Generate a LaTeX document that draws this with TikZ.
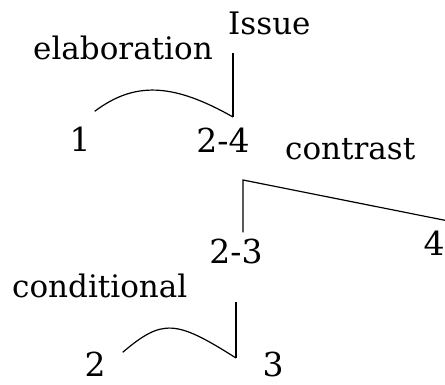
\documentclass[tikz,border=0pt]{standalone}
\usepackage{fontspec}
\setmainfont{DejaVu Serif}
\usetikzlibrary{calc}
\tikzset{
  word/.style={inner sep=0pt, font=\fontsize{31}{31}\selectfont},
  num/.style={inner sep=0pt, anchor=base, font=\fontsize{33}{33}\selectfont},
  rel/.style={line width=1.2pt},
}

\begin{document}
\begin{tikzpicture}[x=1pt, y=-1pt]
    \useasboundingbox (0,0) rectangle (445,385);
    % top level
    \node[word, anchor=base west] (issue) at (228,35) {Issue};
    \node[word, anchor=base west] (elab) at (33,60) {elaboration};
    \node[num] (n1) at (80,152) {1};
    \node[num] (n24) at (223,153) {2-4};
    \coordinate (j1) at (233,117);
    \draw[rel] ([xshift=5pt,yshift=-18pt]issue.base west) -- (j1);
    \draw[rel] ([xshift=4pt,yshift=16pt]n1.north east) .. controls +(40,-30) and +(-60,-34) .. (j1);
    % contrast
    \node[word, anchor=base west] (contr) at (285,160) {contrast};
    \node[num] (n23) at (236,263) {2-3};
    \node[num] (n4) at (434,255) {4};
    \coordinate (k) at (243,180);
    \draw[rel] ([xshift=7pt,yshift=6pt]n23.north) -- (k) -- ([xshift=11pt,yshift=10pt]n4.north);
    % conditional
    \node[word, anchor=base west] (cond) at (12,298) {conditional};
    \node[num] (n2) at (95,376) {2};
    \node[num] (n3) at (273,376) {3};
    \coordinate (j2) at ([yshift=-95pt]n23.base);
    \draw[rel] ([yshift=-39pt]n23.base) -- (j2);
    \draw[rel] ([xshift=17pt,yshift=-1pt]n2.north east) .. controls +(40,-34) and +(-60,-38) .. (j2);
  \end{tikzpicture}
\end{document}
